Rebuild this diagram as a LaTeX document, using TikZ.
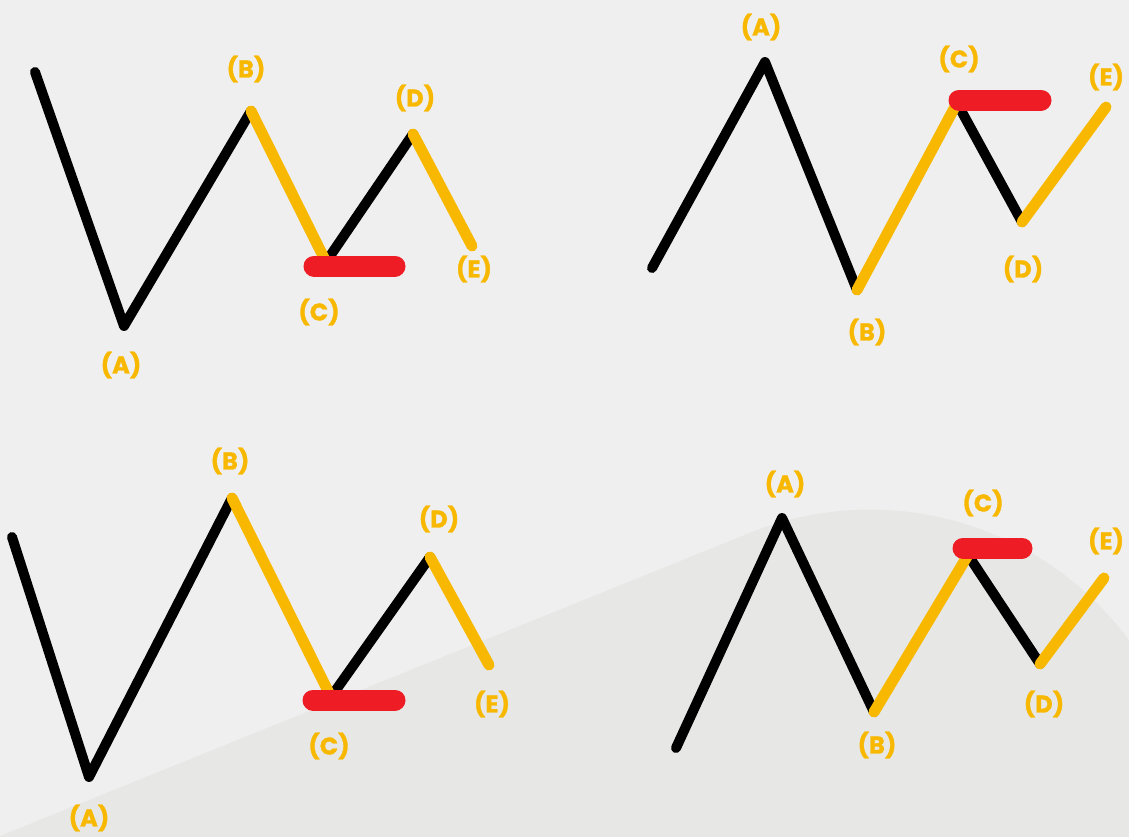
\documentclass[tikz,border=0pt]{standalone}
\usepackage{fontspec}
\setmainfont{Poppins}
\newfontfamily\lblfont{Poppins}[FakeBold=1.3]
\definecolor{bgtop}{HTML}{EFEFEF}
\definecolor{bglow}{HTML}{E7E7E5}
\definecolor{wy}{HTML}{F8B800}
\definecolor{wr}{HTML}{EE1D25}
\tikzset{
  blk/.style={line width=10pt, black, line cap=round, line join=round},
  ylw/.style={line width=11pt, wy, line cap=round, line join=round},
  redbar/.style={line width=21pt, wr, line cap=round},
  lbl/.style={text=wy, font=\lblfont\fontsize{24}{24}\selectfont\bfseries, inner sep=0pt}
}
\begin{document}
\begin{tikzpicture}[x=1pt,y=-1pt]
\useasboundingbox (0,0) rectangle (1129,836);
\fill[bgtop] (0,0) rectangle (1129,836);
\begin{scope}
\clip (0,0) rectangle (1129,836);
\fill[bglow] (0,836) -- (752,532) arc[start angle=248.5, end angle=360, radius=322] -- (1200,840) -- (0,840) -- cycle;
\end{scope}
% ---------- panel 1 ----------
\coordinate (p1s) at (35,72);
\coordinate (p1A) at (124,326);
\coordinate (p1B) at (251,111);
\coordinate (p1C) at (326,262);
\coordinate (p1D) at (413,134);
\coordinate (p1E) at (472,246);
\coordinate (p1r1) at (314,266);
\coordinate (p1r2) at (395,266);
\draw[blk] (p1s) -- (p1A) -- (p1B);
\draw[blk] (p1C) -- (p1D);
\draw[ylw] (p1B) -- (p1C);
\draw[ylw] (p1D) -- (p1E);
\draw[redbar] (p1r1) -- (p1r2);
\node[lbl] (l1A) at (121,365) {(A)};
\node[lbl] (l1B) at (246,69) {(B)};
\node[lbl] (l1C) at (319,312) {(C)};
\node[lbl] (l1D) at (415,98) {(D)};
\node[lbl] (l1E) at (474,269) {(E)};
% ---------- panel 2 ----------
\coordinate (p2s) at (652,268);
\coordinate (p2A) at (765,62);
\coordinate (p2B) at (857,290);
\coordinate (p2C) at (957,103);
\coordinate (p2D) at (1022,222);
\coordinate (p2E) at (1106,107);
\coordinate (p2r1) at (959,100);
\coordinate (p2r2) at (1041,100);
\draw[blk] (p2s) -- (p2A) -- (p2B);
\draw[blk] (p2C) -- (p2D);
\draw[ylw] (p2B) -- (p2C);
\draw[ylw] (p2D) -- (p2E);
\draw[redbar] (p2r1) -- (p2r2);
\node[lbl] (l2A) at (761,27) {(A)};
\node[lbl] (l2B) at (867,332) {(B)};
\node[lbl] (l2C) at (959,59) {(C)};
\node[lbl] (l2D) at (1023,269) {(D)};
\node[lbl] (l2E) at (1106,77) {(E)};
% ---------- panel 3 ----------
\coordinate (p3s) at (12,537);
\coordinate (p3A) at (89,777);
\coordinate (p3B) at (232,498);
\coordinate (p3C) at (331,697);
\coordinate (p3D) at (430,557);
\coordinate (p3E) at (489,665);
\coordinate (p3r1) at (313,700);
\coordinate (p3r2) at (395,700);
\draw[blk] (p3s) -- (p3A) -- (p3B);
\draw[blk] (p3C) -- (p3D);
\draw[ylw] (p3B) -- (p3C);
\draw[ylw] (p3D) -- (p3E);
\draw[redbar] (p3r1) -- (p3r2);
\node[lbl] (l3A) at (89,818) {(A)};
\node[lbl] (l3B) at (230,461) {(B)};
\node[lbl] (l3C) at (329,746) {(C)};
\node[lbl] (l3D) at (439,519) {(D)};
\node[lbl] (l3E) at (492,704) {(E)};
% ---------- panel 4 ----------
\coordinate (p4s) at (676,748);
\coordinate (p4A) at (782,518);
\coordinate (p4B) at (874,712);
\coordinate (p4C) at (968,555);
\coordinate (p4D) at (1040,664);
\coordinate (p4E) at (1104,578);
\coordinate (p4r1) at (963,548);
\coordinate (p4r2) at (1022,548);
\draw[blk] (p4s) -- (p4A) -- (p4B);
\draw[blk] (p4C) -- (p4D);
\draw[ylw] (p4B) -- (p4C);
\draw[ylw] (p4D) -- (p4E);
\draw[redbar] (p4r1) -- (p4r2);
\node[lbl] (l4A) at (785,484) {(A)};
\node[lbl] (l4B) at (877,745) {(B)};
\node[lbl] (l4C) at (983,503) {(C)};
\node[lbl] (l4D) at (1044,704) {(D)};
\node[lbl] (l4E) at (1106,541) {(E)};
\end{tikzpicture}
\end{document}
